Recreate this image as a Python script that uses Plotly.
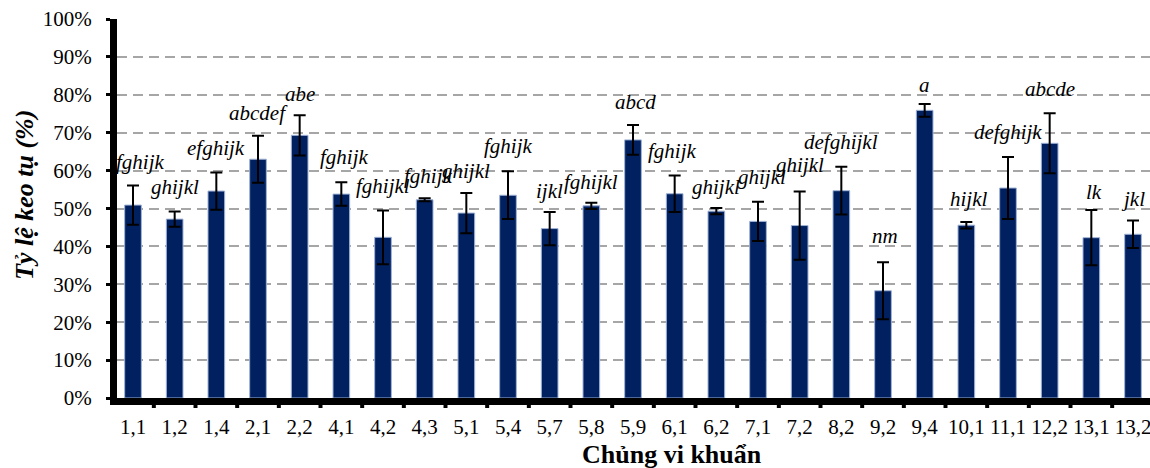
import plotly.graph_objects as go

# Strains and flocculation results (mean % and standard deviation)
strains = ["1,1", "1,2", "1,4", "2,1", "2,2", "4,1", "4,2", "4,3", "5,1", "5,4",
           "5,7", "5,8", "5,9", "6,1", "6,2", "7,1", "7,2", "8,2", "9,2", "9,4",
           "10,1", "11,1", "12,2", "13,1", "13,2"]
flocculation = [50.9, 47.2, 54.6, 63.0, 69.3, 53.8, 42.4, 52.3, 48.8, 53.5,
                44.7, 50.7, 68.1, 53.9, 49.3, 46.6, 45.5, 54.7, 28.3, 75.9,
                45.6, 55.4, 67.2, 42.3, 43.2]
std_dev = [5.2, 2.0, 4.9, 6.2, 5.3, 3.1, 7.1, 0.4, 5.3, 6.3,
           4.4, 0.8, 3.9, 4.8, 0.8, 5.2, 9.0, 6.3, 7.5, 1.7,
           0.85, 8.2, 7.9, 7.3, 3.65]
# Significance groups
groups = ["fghijk", "ghijkl", "efghijk", "abcdef", "abe", "fghijk", "fghijkl",
          "fghijk", "ghijkl", "fghijk", "ijkl", "fghijkl", "abcd", "fghijk",
          "ghijkl", "ghijkl", "ghijkl", "defghijkl", "nm", "a", "hijkl",
          "defghijk", "abcde", "lk", "jkl"]

# Placement of the group letters (horizontal nudge in category units, height in %)
label_dx = [0.17, 0, 0, 0, 0, 0.07, 0, 0.08, 0, 0, 0, 0, 0.07, -0.06, 0,
            0.1, 0, 0, 0.05, 0, 0.04, 0, 0, 0.07, 0]
label_y = [62.2, 55.6, 65.9, 75.3, 80.1, 63.5, 55.9, 58.5, 59.8, 66.4, 54.6,
           57.0, 78.2, 65.1, 55.6, 58.3, 61.4, 67.5, 42.8, 82.7, 52.5, 70.3,
           81.4, 54.3, 52.5]

SERIF = "Liberation Serif, Times New Roman, serif"

fig = go.Figure()
fig.add_trace(go.Bar(
    x=list(range(len(strains))),
    y=flocculation,
    width=0.4,
    marker=dict(color="#002060", line=dict(color="#9fb2d6", width=1)),
    error_y=dict(type="data", array=std_dev, visible=True,
                 color="black", thickness=2, width=6),
    showlegend=False,
))

annotations = []
for i, (txt, dx, yy) in enumerate(zip(groups, label_dx, label_y)):
    annotations.append(dict(
        x=i + dx, y=yy, xref="x", yref="y", text=txt, showarrow=False,
        xanchor="center", yanchor="middle",
        font=dict(family=SERIF, size=21, color="black", style="italic"),
    ))

annotations.append(dict(
    x=672, y=454, xref="paper", yref="paper", text="<b>Chủng vi khuẩn</b>",
    xanchor="center", yanchor="middle",
    showarrow=False, font=dict(family=SERIF, size=26, color="black"),
))
annotations.append(dict(
    x=24, y=195, xref="paper", yref="paper", text="<b><i>Tỷ lệ keo tụ (%)</i></b>",
    xanchor="center", yanchor="middle",
    textangle=-90, showarrow=False, font=dict(family=SERIF, size=26, color="black"),
))

W, H = 1150, 468
L, T, B, R = 117, 19, 70, 0
pw, ph = W - L - R, H - T - B
# convert pixel-placed titles to paper coordinates
for a in annotations[-2:]:
    a["x"] = (a["x"] - L) / pw
    a["y"] = (H - B - a["y"]) / ph

step = 1000 / 24
fig.update_layout(
    width=W, height=H,
    margin=dict(l=L, r=R, t=T, b=B, pad=0),
    plot_bgcolor="white", paper_bgcolor="white",
    bargap=0.6,
    annotations=annotations,
    xaxis=dict(
        type="linear",
        tickmode="array",
        tickvals=list(range(len(strains))),
        ticktext=strains,
        range=[-(133 - L) / step, 24 + (W - 1133) / step],
        showline=True, linecolor="black", linewidth=7,
        ticks="", showgrid=False, zeroline=False,
        ticklabelstandoff=4,
        ticklabeloverflow="allow",
        tickfont=dict(family=SERIF, size=21, color="black"),
    ),
    yaxis=dict(
        range=[0, 100], dtick=10, ticksuffix="%",
        showline=True, linecolor="black", linewidth=7,
        ticks="outside", ticklen=4, tickwidth=3, tickcolor="black",
        showgrid=True, gridcolor="#a6a6a6", gridwidth=2, griddash="10px,6px",
        zeroline=False,
        ticklabelstandoff=10,
        tickfont=dict(family=SERIF, size=21, color="black"),
    ),
)

# category boundary ticks beneath the horizontal axis
for k in range(len(strains) + 1):
    fig.add_shape(type="line", xref="x", yref="paper",
                  x0=k - 0.5, x1=k - 0.5, y0=-6 / ph, y1=-10 / ph,
                  line=dict(color="black", width=4))

fig.write_html("out.html")
